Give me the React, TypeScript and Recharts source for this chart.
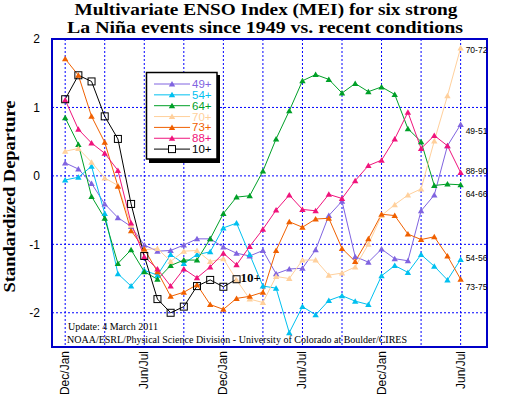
import { LineChart, Line, XAxis, YAxis, CartesianGrid, ReferenceArea } from "recharts";

// bimonthly seasons, Dec/Jan of year 0 through Jun/Jul of year 2
const months = ["Dec/Jan", "Jan/Feb", "Feb/Mar", "Mar/Apr", "Apr/May", "May/Jun", "Jun/Jul", "Jul/Aug", "Aug/Sep", "Sep/Oct", "Oct/Nov", "Nov/Dec"];
const seasons = Array.from({ length: 31 }, (_, i) => months[i % 12]);

const xTicks = [0, 3, 6, 9, 12, 15, 18, 21, 24, 27, 30];
const yTicks = [-2, -1, 0, 1, 2];

const mei49 = [0.19, 0.1, -0.11, -0.41, -0.61, -0.74, -1.01, -1.1, -1.09, -1.01, -0.92, -0.92, -1.04, -1.13, -1.17, -1.09, -1.43, -1.36, -1.35, -1.08, -0.58, -0.37, -1.18, -1.26, -1.07, -1.21, -1.24, -0.51, -0.28, 0.44, 0.75];
const mei54 = [-0.06, -0.02, 0.14, -0.55, -1.43, -1.61, -1.38, -1.45, -1.15, -1.28, -1.15, -1.11, -0.76, -0.69, -1.15, -1.61, -1.64, -2.29, -1.91, -2.03, -1.82, -1.75, -1.83, -1.88, -1.46, -1.31, -1.41, -1.15, -1.32, -1.52, -1.22];
const mei64 = [0.85, 0.46, -0.3, -0.62, -1.28, -1.08, -1.4, -1.51, -1.31, -1.23, -1.23, -0.92, -0.55, -0.31, -0.29, 0.07, 0.54, 0.95, 1.39, 1.48, 1.41, 1.21, 1.35, 1.23, 1.3, 1.19, 0.69, 0.5, -0.14, -0.12, -0.13];
const mei70 = [0.36, 0.4, 0.2, -0.03, -0.14, -0.72, -1.08, -1.06, -1.25, -1.1, -1.09, -1.25, -1.21, -1.52, -1.8, -1.85, -1.47, -1.5, -1.23, -1.23, -1.45, -1.42, -1.33, -1.0, -0.58, -0.42, -0.28, -0.19, 0.51, 1.17, 1.87];
const mei73 = [1.71, 1.47, 0.87, 0.49, -0.15, -0.8, -1.07, -1.4, -1.76, -1.7, -1.59, -1.88, -1.95, -1.79, -1.76, -1.7, -1.09, -0.67, -0.75, -0.63, -0.62, -1.06, -1.25, -0.92, -0.56, -0.58, -0.85, -0.93, -0.89, -1.17, -1.51];
const mei88 = [1.11, 0.68, 0.48, 0.33, 0.08, -0.69, -1.18, -1.36, -1.61, -1.36, -1.49, -1.33, -1.13, -1.3, -1.03, -0.78, -0.5, -0.28, -0.49, -0.51, -0.27, -0.33, -0.07, 0.15, 0.23, 0.54, 0.93, 0.4, 0.59, 0.44, 0.05];
const mei10 = [1.12, 1.47, 1.38, 0.87, 0.54, -0.41, -1.17, -1.8, -2.0, -1.91, -1.61, -1.52, -1.62, -1.51];

const series = [
  { key: "s49", name: "49+", values: mei49, color: "#8064e0", tag: "49-51", tagDy: 9 },
  { key: "s54", name: "54+", values: mei54, color: "#00c0f0", tag: "54-56", tagDy: 2 },
  { key: "s64", name: "64+", values: mei64, color: "#00a028", tag: "64-66", tagDy: 12 },
  { key: "s70", name: "70+", values: mei70, color: "#ffd09c", tag: "70-72", tagDy: 5 },
  { key: "s73", name: "73+", values: mei73, color: "#f06000", tag: "73-75", tagDy: 11 },
  { key: "s88", name: "88+", values: mei88, color: "#f0147c", tag: "88-90", tagDy: 1.5 },
  { key: "s10", name: "10+", values: mei10, color: "#000000", tag: "10+", tagDy: 3 },
];

const rows = seasons.map((s, i) => {
  const r: Record<string, any> = { i, season: s };
  series.forEach((sr) => (r[sr.key] = sr.values[i]));
  return r;
});

const sans = "'Liberation Sans', Arial, sans-serif";
const serif = "'Liberation Serif', 'Times New Roman', serif";

const makeDot = (sr: any) => (props: any) => {
  const { cx, cy, index } = props;
  if (cx == null || cy == null || sr.values[index] == null) return <g key={index} />;
  const last = index === sr.values.length - 1;
  const isNow = sr.key === "s10";
  return (
    <g key={index}>
      {isNow ? (
        <rect x={cx - 3.5} y={cy - 3.5} width={7} height={7} fill="none" stroke="#000" strokeWidth={1} />
      ) : (
        <path d={`M${cx},${cy - 3}L${cx + 3.2},${cy + 2.5}L${cx - 3.2},${cy + 2.5}Z`} fill={sr.color} />
      )}
      {last && isNow && (
        <text x={cx + 4} y={cy + sr.tagDy} fontFamily={serif} fontWeight="bold" fontSize={13} fill="#000">
          {sr.tag}
        </text>
      )}
      {last && !isNow && (
        <text x={cx + 5} y={cy + sr.tagDy} fontFamily={sans} fontSize={8.5} fill="#000">
          {sr.tag}
        </text>
      )}
    </g>
  );
};

const XTick = ({ x, y, payload }: any) => {
  const v = payload.value;
  if (v % 6 !== 0) return <g />;
  return (
    <text x={x + 4} y={y} transform={`rotate(-90 ${x + 4} ${y})`} textAnchor="end" fontFamily={sans} fontSize={12} fill="#000">
      {seasons[v]}
    </text>
  );
};

function Overlay() {
  return (
    <svg width={507} height={394} style={{ position: "absolute", left: 0, top: 0, pointerEvents: "none" }}>
      <text x={266} y={14.5} textAnchor="middle" fontFamily={serif} fontWeight="bold" fontSize={17.5} textLength={383} lengthAdjust="spacingAndGlyphs">
        Multivariate ENSO Index (MEI) for six strong
      </text>
      <text x={265} y={32.5} textAnchor="middle" fontFamily={serif} fontWeight="bold" fontSize={17.5} textLength={396} lengthAdjust="spacingAndGlyphs">
        La Niña events since 1949 vs. recent conditions
      </text>
      <text x={14.5} y={196.5} transform="rotate(-90 14.5 196.5)" textAnchor="middle" fontFamily={serif} fontWeight="bold" fontSize={17} textLength={192} lengthAdjust="spacingAndGlyphs">
        Standardized Departure
      </text>
      <text x={68} y={330} fontFamily={serif} fontSize={10}>Update: 4 March 2011</text>
      <text x={67} y={343} fontFamily={serif} fontSize={10} textLength={340} lengthAdjust="spacingAndGlyphs">
        NOAA/ESRL/Physical Science Division - University of Colorado at Boulder/CIRES
      </text>
      {/* legend */}
      <rect x={149} y={75} width={71} height={88} fill="#000" />
      <rect x={146.5} y={72.5} width={70.5} height={86.5} fill="#fff" stroke="#000" strokeWidth={1.5} />
      {series.map((sr, k) => {
        const y = 84 + k * 10.85;
        return (
          <g key={sr.key}>
            <line x1={154} x2={190} y1={y} y2={y} stroke={sr.color} strokeWidth={1} />
            {sr.key === "s10" ? (
              <rect x={168.5} y={y - 3.5} width={7} height={7} fill="#fff" stroke="#000" />
            ) : (
              <path d={`M172,${y - 3}L175.2,${y + 2.5}L168.8,${y + 2.5}Z`} fill={sr.color} />
            )}
            <text x={192} y={y + 4} fontFamily={sans} fontSize={11.5} fill={sr.color}>
              {sr.name}
            </text>
          </g>
        );
      })}
    </svg>
  );
}

export default function App() {
  return (
    <div style={{ position: "relative", width: 507, height: 394, background: "#fff" }}>
      <style>{`body{margin:0}`}</style>
      <LineChart width={507} height={394} data={rows} margin={{ top: 39, right: 0, bottom: 7, left: 8 }}>
        <CartesianGrid yAxisId="l" stroke="#0000ff" strokeDasharray="2 2" ticks={yTicks} />
        <XAxis
          dataKey="i"
          type="number"
          domain={[-1, 32]}
          ticks={xTicks}
          interval={0}
          axisLine={false}
          tickLine={false}
          tickSize={0}
          tickMargin={4}
          height={40}
          tick={<XTick />}
        />
        <YAxis
          yAxisId="l"
          domain={[-2.5, 2]}
          ticks={yTicks}
          width={44}
          axisLine={false}
          tickLine={false}
          tickSize={0}
          tickMargin={12}
          tick={{ fontFamily: sans, fontSize: 12, fill: "#000" }}
        />
        <YAxis
          yAxisId="r"
          orientation="right"
          domain={[-2.5, 2]}
          ticks={yTicks}
          width={20}
          axisLine={false}
          tickLine={false}
          tickSize={0}
          tickMargin={9}
          tick={{ fontFamily: sans, fontSize: 12, fill: "#000", textAnchor: "start" }}
        />
        <ReferenceArea yAxisId="l" x1={-1} x2={32} y1={-2.5} y2={2} fill="none" stroke="#0000c8" strokeWidth={2} />
        {series.map((sr) => (
          <Line
            key={sr.key}
            yAxisId="l"
            type="linear"
            dataKey={sr.key}
            stroke={sr.color}
            strokeWidth={1}
            dot={makeDot(sr)}
            activeDot={false}
            isAnimationActive={false}
          />
        ))}
      </LineChart>
      <Overlay />
    </div>
  );
}
